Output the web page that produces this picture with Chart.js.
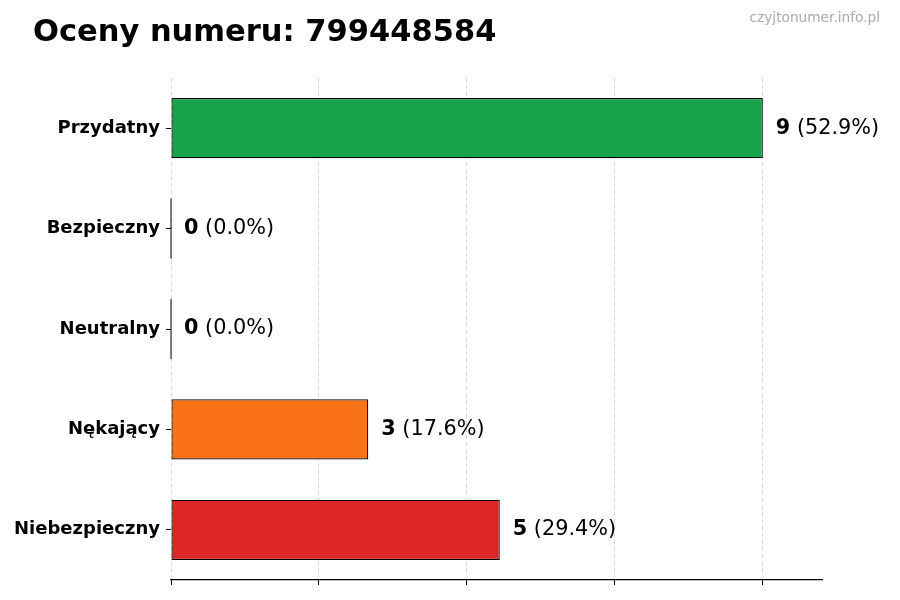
<!DOCTYPE html>
<html>
<head>
<meta charset="utf-8">
<script src="https://cdn.jsdelivr.net/npm/chart.js@4"></script>
<style>
  body { margin: 0; background: #fff; }
  canvas { display: block; }
</style>
</head>
<body>
<canvas id="chart" width="900" height="600"></canvas>
<script>
const categories = ['Przydatny', 'Bezpieczny', 'Neutralny', 'Nękający', 'Niebezpieczny']
const counts = [9, 0, 0, 3, 5]
const barColors = ['#16a34a', '#9ca3af', '#60a5fa', '#f97316', '#dc2626']
const xTicks = [0, 2.25, 4.5, 6.75, 9]
const xMax = 9.9

const titleText = 'Oceny numeru: 799448584'
const watermark = 'czyjtonumer.info.pl'
const FONT = "'DejaVu Sans', sans-serif"

const total = counts.reduce((a, b) => a + b, 0)

// title + watermark drawn on the canvas
const headerPlugin = {
  id: 'header',
  afterDraw(chart) {
    const ctx = chart.ctx
    ctx.save()
    ctx.fillStyle = '#000'
    ctx.font = 'bold 30.5px ' + FONT
    ctx.textAlign = 'left'
    ctx.textBaseline = 'alphabetic'
    ctx.fillText(titleText, 33, 41)

    ctx.fillStyle = '#aaaaaa'
    ctx.font = '13.7px ' + FONT
    ctx.textAlign = 'right'
    ctx.fillText(watermark, 880, 22)
    ctx.restore()
  }
}

// value labels at bar ends, and a thin edge for zero bars
const valuePlugin = {
  id: 'values',
  afterDatasetsDraw(chart) {
    const ctx = chart.ctx
    const meta = chart.getDatasetMeta(0)
    ctx.save()
    meta.data.forEach((bar, i) => {
      const v = counts[i]
      if (v === 0) {
        ctx.strokeStyle = '#000'
        ctx.lineWidth = 1
        ctx.beginPath()
        ctx.moveTo(bar.base, bar.y - bar.height / 2)
        ctx.lineTo(bar.base, bar.y + bar.height / 2)
        ctx.stroke()
      }
      const pct = total ? (v / total * 100).toFixed(1) : '0.0'
      const x = bar.x + 13
      ctx.textBaseline = 'middle'
      ctx.textAlign = 'left'
      ctx.fillStyle = '#000'
      ctx.font = 'bold 20.8px ' + FONT
      const num = String(v)
      ctx.fillText(num, x, bar.y)
      const w = ctx.measureText(num).width
      ctx.font = '20.8px ' + FONT
      ctx.fillText(' (' + pct + '%)', x + w, bar.y)
    })
    ctx.restore()
  }
}

new Chart(document.getElementById('chart'), {
  type: 'bar',
  data: {
    labels: categories,
    datasets: [{
      data: counts,
      backgroundColor: barColors,
      borderColor: '#000',
      borderWidth: 1.2,
      borderSkipped: false,
      barPercentage: 0.6,
      categoryPercentage: 1
    }]
  },
  options: {
    indexAxis: 'y',
    responsive: false,
    animation: false,
    devicePixelRatio: 1,
    layout: {
      padding: { left: 0, right: 78, top: 78, bottom: 0 }
    },
    scales: {
      x: {
        min: 0,
        max: xMax,
        afterBuildTicks: axis => {
          axis.ticks = xTicks.map(v => ({ value: v }))
        },
        afterFit: axis => { axis.height = 20 },
        ticks: { display: false },
        grid: {
          color: '#d9d9d9',
          lineWidth: 1,
          tickColor: '#000',
          tickLength: 5,
          tickWidth: 1
        },
        border: { display: true, color: '#000', width: 1.2, dash: [4, 3] }
      },
      y: {
        afterFit: axis => { axis.width = 171 },
        ticks: {
          color: '#000',
          padding: 6,
          font: { family: FONT, size: 18, weight: 'bold' }
        },
        grid: {
          offset: false,
          drawOnChartArea: false,
          tickColor: '#000',
          tickLength: 5,
          tickWidth: 1
        },
        border: { display: false }
      }
    },
    plugins: {
      legend: { display: false },
      tooltip: { enabled: false }
    }
  },
  plugins: [headerPlugin, valuePlugin]
})
</script>
</body>
</html>
